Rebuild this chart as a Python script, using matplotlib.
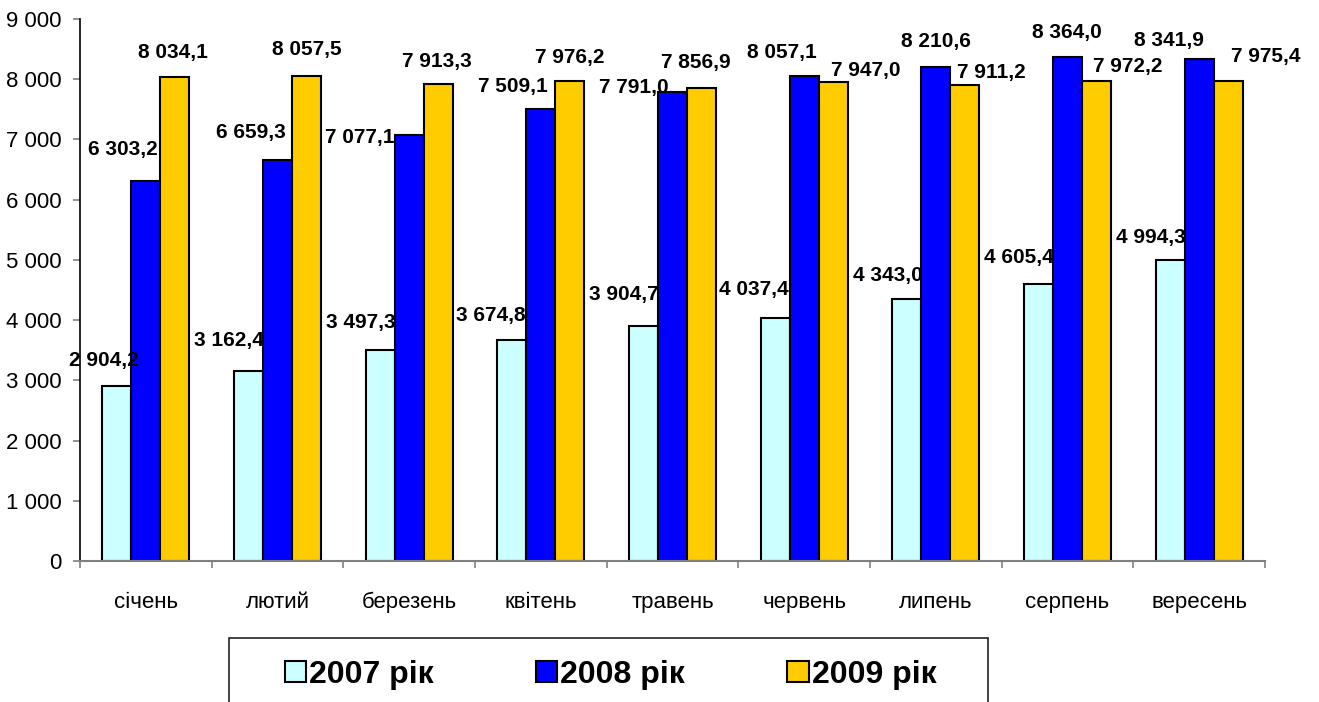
import numpy as np
import matplotlib.pyplot as plt
from matplotlib.patches import Rectangle
from matplotlib.ticker import FuncFormatter

plt.rcParams['font.family'] = ['Liberation Sans', 'DejaVu Sans']

months = ['січень', 'лютий', 'березень', 'квітень', 'травень',
          'червень', 'липень', 'серпень', 'вересень']
years = ['2007 рік', '2008 рік', '2009 рік']
v2007 = [2904.2, 3162.4, 3497.3, 3674.8, 3904.7, 4037.4, 4343.0, 4605.4, 4994.3]
v2008 = [6303.2, 6659.3, 7077.1, 7509.1, 7791.0, 8057.1, 8210.6, 8364.0, 8341.9]
v2009 = [8034.1, 8057.5, 7913.3, 7976.2, 7856.9, 7947.0, 7911.2, 7972.2, 7975.4]

colors = ['#CCFFFF', '#0000FF', '#FFCC00']

# label offsets (pixels from bar top centre), labels were hand-moved in the original
offs = [
    [(-13, 26), (-20, 30), (-19, 28), (-21, 24), (-20, 31), (-21, 28), (-19, 24), (-20, 26), (-19, 23)],
    [(-23, 32), (-27, 27), (-49, -3), (-28, 22), (-39, 4), (-22, 23), (0, 25), (-1, 25), (-30, 18)],
    [(-2, 25), (0, 26), (-1, 23), (0, 23), (-6, 25), (33, 12), (27, 12), (31, 14), (38, 24)],
]


def fmt(v, dec=1):
    s = f"{v:,.{dec}f}"
    return s.replace(",", " ").replace(".", ",")


fig = plt.figure(figsize=(13.19, 7.02), dpi=100)
ax = fig.add_axes([80/1319, 1-561/702, (1265-80)/1319, (561-19)/702])

x = np.arange(len(months))
w = 0.22
handles = []
for j, vals in enumerate([v2007, v2008, v2009]):
    bars = ax.bar(x + (j-1)*w, vals, width=w, color=colors[j],
                  edgecolor='black', linewidth=1.5, zorder=2)
    handles.append(bars)
    for i, b in enumerate(bars):
        dx, dy = offs[j][i]
        ax.annotate(fmt(vals[i]), (b.get_x() + b.get_width()/2, b.get_height()),
                    xytext=(dx, dy), textcoords='offset pixels',
                    ha='center', va='center', fontsize=15, fontweight='bold',
                    zorder=5)

ax.set_xlim(-0.5, len(months) - 0.5)
ax.set_ylim(0, 9000)
ax.set_yticks(np.arange(0, 9001, 1000))
ax.yaxis.set_major_formatter(FuncFormatter(lambda v, p: fmt(v, 0)))
ax.set_xticks(x)
ax.set_xticklabels(months)
ax.set_xticks(np.arange(-0.5, len(months)), minor=True)
ax.tick_params(axis='x', which='major', length=0, pad=22, labelsize=16)
ax.tick_params(axis='x', which='minor', length=5, width=1.2, color='#808080')
ax.tick_params(axis='y', length=5, width=1.2, color='#808080', labelsize=16, pad=8)

for s in ['top', 'right']:
    ax.spines[s].set_visible(False)
ax.spines['left'].set_color('black')
ax.spines['left'].set_linewidth(1.2)
ax.spines['bottom'].set_color('#808080')
ax.spines['bottom'].set_linewidth(1.5)

# legend box runs off the bottom of the picture
fig.patches.append(Rectangle((229/1319, -0.1), (988-229)/1319, 0.1 + 1-638/702,
                             transform=fig.transFigure, fill=False,
                             edgecolor='#222222', linewidth=1.2))
fig.legend(handles, years, loc='center', bbox_to_anchor=(0.463, 0.039), ncol=3,
           frameon=False, handlelength=0.66, handleheight=0.66, handletextpad=0.1,
           columnspacing=3.2, borderpad=0,
           prop={'size': 23, 'weight': 'bold'})

fig.savefig('out.png', dpi=100)
